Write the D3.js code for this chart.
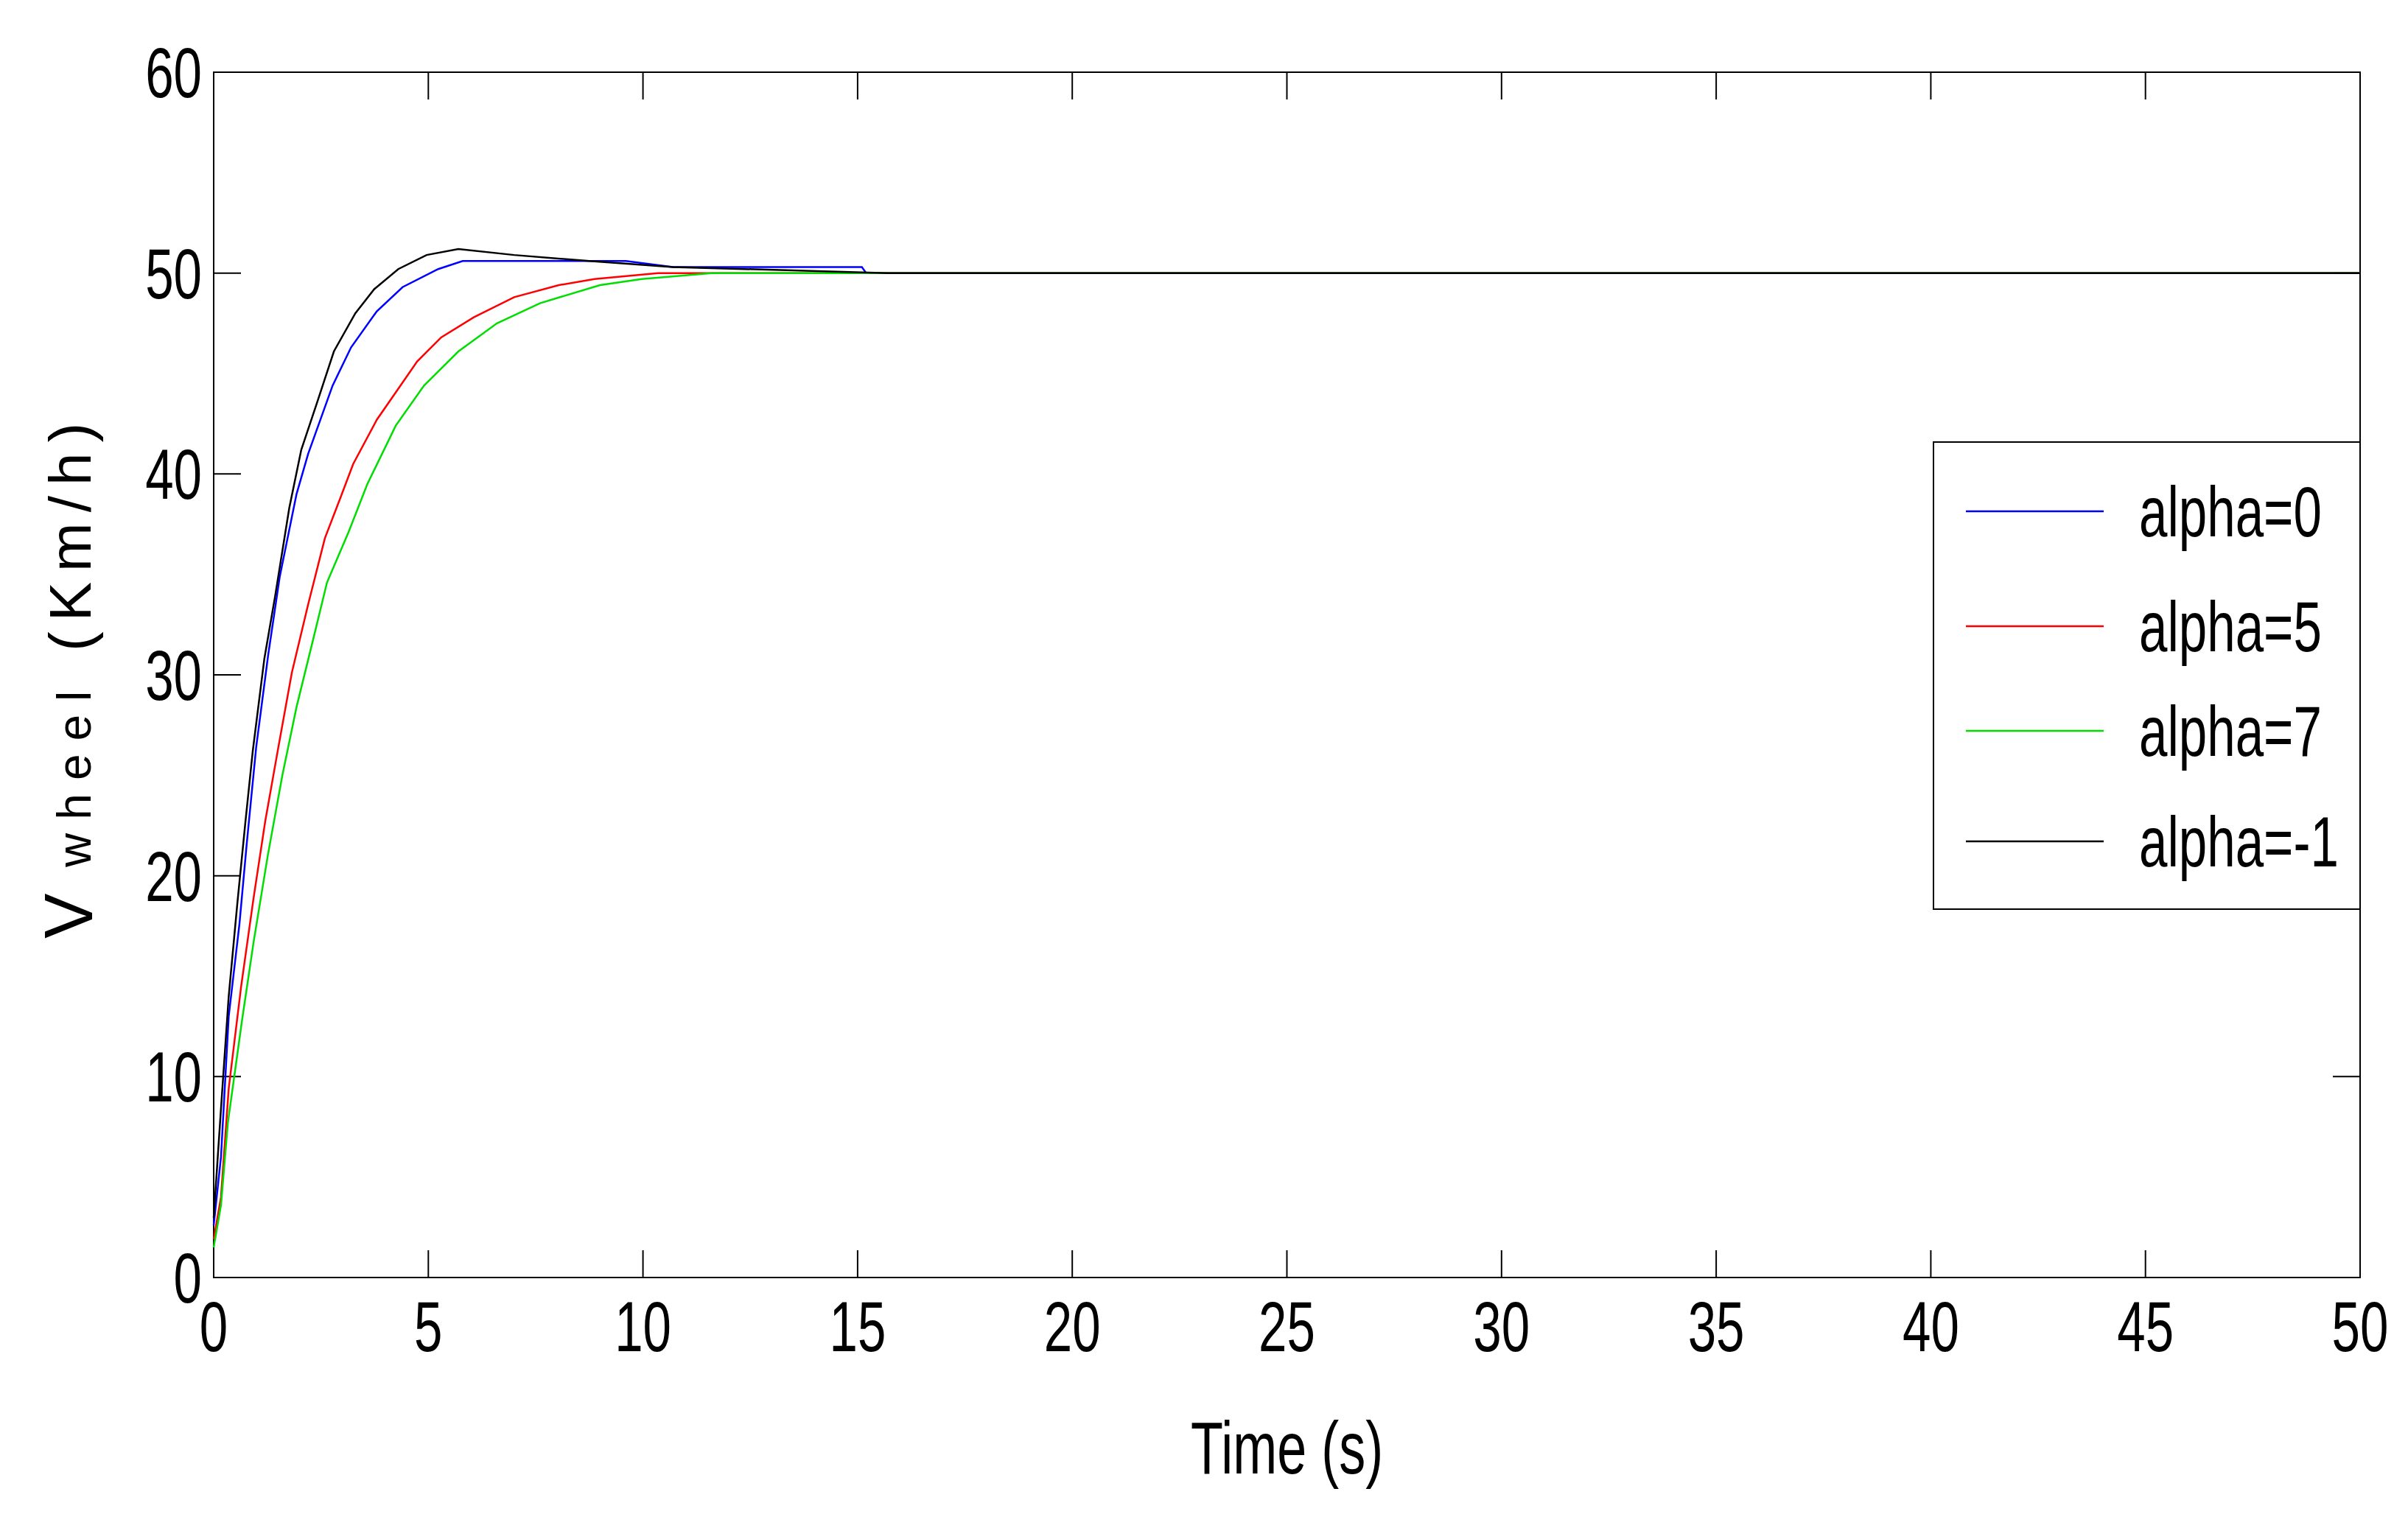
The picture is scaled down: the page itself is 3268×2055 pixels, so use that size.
<!DOCTYPE html>
<html><head><meta charset="utf-8">
<script src="https://d3js.org/d3.v7.min.js"></script>
<style>body{margin:0;background:#fff}</style></head>
<body><svg id="c" width="3268" height="2055"></svg>
<script>
const xTicks=[0,5,10,15,20,25,30,35,40,45,50];
const yTicks=[0,10,20,30,40,50,60];
const names=["alpha=0","alpha=5","alpha=7","alpha=-1"];
const colors=["#0000ff","#ff0000","#00dd00","#000000"];
const tBlue=[0,0.17,0.35,0.6,0.77,0.99,1.27,1.54,1.93,2.2,2.77,3.2,3.8,4.4,5.23,5.8,9.6,10.7,15.1,15.2,50];
const vBlue=[2.6,6,13,17.6,21.6,26.4,31,34.9,39,41,44.4,46.3,48.1,49.3,50.2,50.6,50.6,50.3,50.3,50,50];
const tRed=[0,0.17,0.35,0.64,0.93,1.2,1.49,1.82,2.2,2.59,2.95,3.25,3.8,4.74,5.3,6.06,7,8.04,8.87,10.35,50];
const vRed=[1.9,4,9.4,14.5,18.9,22.7,26.2,30.1,33.5,36.8,38.8,40.5,42.7,45.6,46.8,47.8,48.8,49.4,49.7,50,50];
const tGreen=[0,0.17,0.33,0.66,0.93,1.26,1.6,1.93,2.31,2.64,3.14,3.58,4.24,4.9,5.7,6.6,7.6,9,9.97,11.6,50];
const vGreen=[1.5,3.6,7.7,12.8,16.7,21,25,28.4,31.7,34.6,37.1,39.5,42.4,44.4,46.1,47.5,48.5,49.4,49.7,50,50];
const tBlack=[0,0.17,0.35,0.55,0.74,0.91,1.18,1.43,1.76,2.04,2.4,2.8,3.3,3.74,4.3,4.96,5.7,7,8.75,10.7,15.7,50];
const vBlack=[2.97,8.4,14,18.6,22.7,26.2,30.8,33.9,38.3,41.2,43.5,46.1,48,49.2,50.2,50.9,51.2,50.9,50.6,50.3,50,50];
const series=[[tBlue,vBlue],[tRed,vRed],[tGreen,vGreen],[tBlack,vBlack]];

const L=290,R=3203,T=98,B=1734;
const svg=d3.select("#c");
const x=d3.scaleLinear().domain([0,50]).range([L,R]);
const y=d3.scaleLinear().domain([0,60]).range([B,T]);
const font="'Liberation Sans',sans-serif";
const sx=0.72;
function txt(px,py,s,size,anchor){
 return svg.append("text").attr("transform",`translate(${px},${py}) scale(${sx},1)`).attr("text-anchor",anchor)
  .attr("font-family",font).attr("font-size",size).text(s);
}
const tl=37;
svg.append("rect").attr("x",L).attr("y",T).attr("width",R-L).attr("height",B-T).attr("fill","none").attr("stroke","#000").attr("stroke-width",2);
const g=svg.append("g").attr("stroke","#000").attr("stroke-width",2);
xTicks.forEach(v=>{g.append("line").attr("x1",x(v)).attr("x2",x(v)).attr("y1",B).attr("y2",B-tl);
 g.append("line").attr("x1",x(v)).attr("x2",x(v)).attr("y1",T).attr("y2",T+tl);});
yTicks.forEach(v=>{g.append("line").attr("x1",L).attr("x2",L+tl).attr("y1",y(v)).attr("y2",y(v));
 g.append("line").attr("x1",R).attr("x2",R-tl).attr("y1",y(v)).attr("y2",y(v));});
xTicks.forEach(d=>txt(x(d),B+100,d,96,"middle"));
yTicks.forEach(d=>txt(L-16,y(d)+34,d,96,"end"));
txt((L+R)/2,2000,"Time (s)",100,"middle");
const yl=svg.append("text").attr("transform","translate(125,917) rotate(-90)").attr("text-anchor","middle").attr("font-family",font).attr("font-size",80);
yl.append("tspan").attr("font-size",92).text("V");
yl.append("tspan").attr("dy",-2).attr("font-size",64).attr("letter-spacing",18).text(" wheel ");
yl.append("tspan").attr("letter-spacing",14).text("(Km/h)");

const line=d3.line().x(d=>x(d[0])).y(d=>y(d[1]));
series.forEach((s,i)=>{
 svg.append("path").datum(s[0].map((t,j)=>[t,s[1][j]])).attr("d",line).attr("fill","none").attr("stroke",colors[i]).attr("stroke-width",2.5);
});
svg.append("rect").attr("x",2624).attr("y",600).attr("width",R-2624).attr("height",634).attr("fill","#fff").attr("stroke","#000").attr("stroke-width",2);
const ly=[694,850,992,1142];
names.forEach((n,i)=>{
 svg.append("line").attr("x1",2668).attr("x2",2855).attr("y1",ly[i]).attr("y2",ly[i]).attr("stroke",colors[i]).attr("stroke-width",2.5);
 txt(2903,ly[i]+34,n,96,"start");
});
</script></body></html>
